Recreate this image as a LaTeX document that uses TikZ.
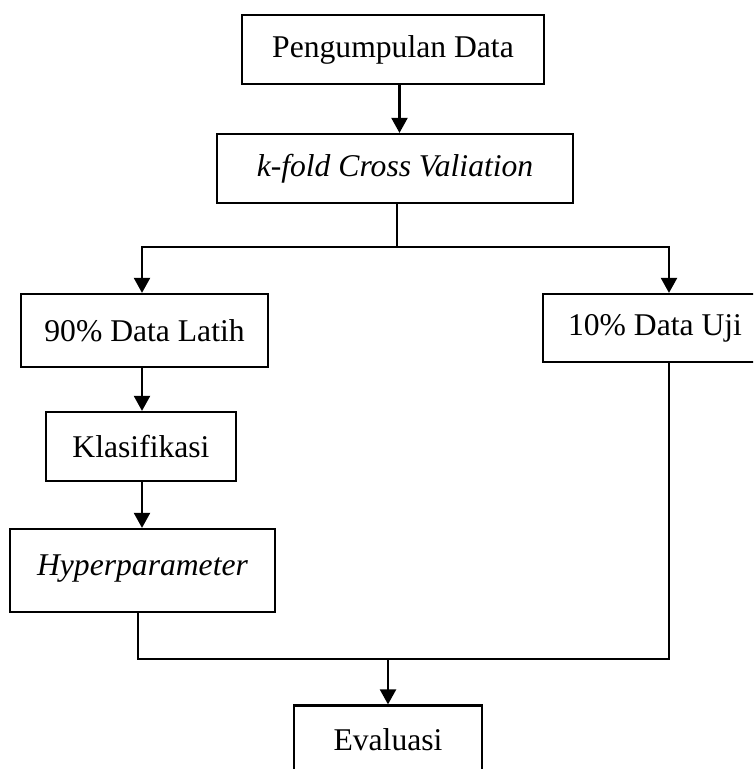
\documentclass[tikz,border=0pt]{standalone}
\usepackage{fontspec}
\setmainfont{Liberation Serif}
\usetikzlibrary{arrows.meta}

\begin{document}
\begin{tikzpicture}[line width=1.25pt,
  box/.style={draw,inner sep=0pt,font=\fontsize{18}{21}\selectfont},
  arr/.style={-{Triangle[length=0.3cm,width=0.32cm]}}]
\useasboundingbox(0,0) rectangle (15.06,-15.38);
\clip(0,0) rectangle (15.06,-15.38);
%
\node[box,minimum width=6.04cm,minimum height=1.38cm](pd) at (7.86,-0.99) {Pengumpulan Data};
\node[box,minimum width=7.12cm,minimum height=1.38cm](kf) at (7.90,-3.37) {\itshape k-fold Cross Valiation};
\node[box,minimum width=4.94cm,minimum height=1.46cm](lt) at (2.89,-6.61) {90\% Data Latih};
\node[box,minimum width=4.48cm,minimum height=1.36cm](uj) at (13.10,-6.56) {10\% Data Uji};
\node[box,minimum width=3.80cm,minimum height=1.38cm](kl) at (2.82,-8.93) {Klasifikasi};
\node[box,minimum width=5.30cm,minimum height=1.66cm](hp) at (2.85,-11.41) {\raisebox{0.2cm}{\itshape Hyperparameter}};
\node[box,minimum width=3.76cm,minimum height=1.38cm](ev) at (7.76,-14.80) {Evaluasi};
%
\coordinate(split) at (7.94,-4.94);
\coordinate(join) at (7.76,-13.18);
%
\draw[arr]([xshift=0.13cm]pd.south)--([xshift=0.13cm]pd.south |- kf.north);
\draw(kf.south -| split)--(split);
\draw[arr](split)-|([xshift=-0.05cm]lt.north);
\draw[arr](split)-|([xshift=0.28cm]uj.north);
\draw[arr]([xshift=-0.05cm]lt.south)--([xshift=-0.05cm]lt.south |- kl.north);
\draw[arr]([xshift=0.02cm]kl.south)--([xshift=0.02cm]kl.south |- hp.north);
%
\draw([xshift=-0.09cm]hp.south)|-([xshift=0.28cm]uj.south |- join)--([xshift=0.28cm]uj.south);
\draw[arr](join)--(ev.north);
\end{tikzpicture}
\end{document}
